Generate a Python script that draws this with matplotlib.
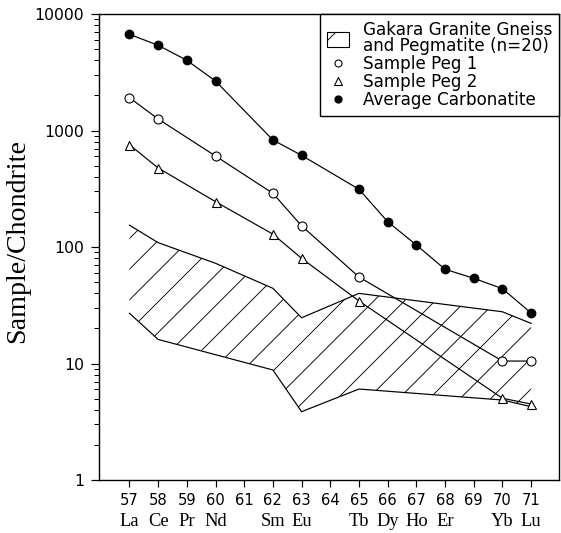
import numpy as np
import matplotlib
matplotlib.use("Agg")
import matplotlib.pyplot as plt
from matplotlib.lines import Line2D
from matplotlib.patches import Patch

# ---- data ----
atomic_numbers = [57, 58, 59, 60, 61, 62, 63, 64, 65, 66, 67, 68, 69, 70, 71]
element_x = [57, 58, 59, 60, 62, 63, 65, 66, 67, 68, 70, 71]
element_labels = ["La", "Ce", "Pr", "Nd", "Sm", "Eu", "Tb", "Dy", "Ho", "Er", "Yb", "Lu"]

carb_x = [57, 58, 59, 60, 62, 63, 65, 66, 67, 68, 69, 70, 71]
carb_y = [6700, 5390, 4005, 2660, 829, 612, 313, 165, 104, 64.4, 53.9, 43.9, 27.1]

peg1_x = [57, 58, 60, 62, 63, 65, 70, 71]
peg1_y = [1914, 1256, 604, 289, 152, 55.3, 10.5, 10.5]

peg2_x = [57, 58, 60, 62, 63, 65, 70, 71]
peg2_y = [755, 477, 245, 129, 80, 34.4, 5.03, 4.49]

field_up_x = [57, 58, 60, 62, 63, 65, 70, 71]
field_up_y = [154, 109, 72.5, 44.2, 24.7, 40, 27.8, 22.1]
field_lo_x = [57, 58, 62, 63, 65, 70, 71]
field_lo_y = [27, 16.1, 8.8, 3.86, 6.04, 4.86, 4.26]

y_ticks = [1, 10, 100, 1000, 10000]
y_tick_labels = ["1", "10", "100", "1000", "10000"]

DPI = 92


def P(px):
    return px * 72.0 / DPI


plt.rcParams["hatch.linewidth"] = P(0.9)
plt.rcParams["font.family"] = ["DejaVu Sans"]

fig = plt.figure(figsize=(561 / DPI, 533 / DPI), dpi=DPI)
ax = fig.add_axes([0.176, 0.0994, 0.9964 - 0.176, 0.9737 - 0.0994])
ax.set_yscale("log")
ax.set_xlim(55.93, 71.97)
ax.set_ylim(1, 10000)

LW = P(1.2)
# hatched field
poly_x = np.concatenate([field_up_x, field_lo_x[::-1]])
poly_y = np.concatenate([field_up_y, field_lo_y[::-1]])
ax.fill(poly_x, poly_y, facecolor="none", edgecolor="black", hatch="/", linewidth=0)
ax.plot(field_up_x, field_up_y, color="black", lw=LW)
ax.plot(field_lo_x, field_lo_y, color="black", lw=LW)

ax.plot(carb_x, carb_y, color="black", lw=LW, marker="o", ms=P(8.5),
        mfc="black", mec="black")
ax.plot(peg1_x, peg1_y, color="black", lw=LW, marker="o", ms=P(9),
        mfc="white", mec="black", mew=P(1.1))
ax.plot(peg2_x, peg2_y, color="black", lw=LW, marker="^", ms=P(9),
        mfc="white", mec="black", mew=P(1.1))

# axes styling
for s in ax.spines.values():
    s.set_linewidth(P(1.4))
ax.set_xticks(atomic_numbers)
ax.set_xticklabels([str(a) for a in atomic_numbers])
ax.tick_params(axis="x", which="major", direction="out", length=P(7), width=P(1.2),
               pad=P(6), labelsize=P(14.8))
ax.set_yticks(y_ticks)
ax.set_yticklabels(y_tick_labels)
ax.yaxis.set_minor_locator(matplotlib.ticker.LogLocator(base=10, subs=np.arange(2, 10)))
ax.yaxis.set_minor_formatter(matplotlib.ticker.NullFormatter())
ax.tick_params(axis="y", which="major", direction="out", length=P(8.5), width=P(1.2),
               pad=P(6), labelsize=P(15.6))
ax.tick_params(axis="y", which="minor", direction="out", length=P(5), width=P(1.0))

for xv, lab in zip(element_x, element_labels):
    ax.text(xv, -0.0895, lab, transform=ax.get_xaxis_transform(), ha="center",
            va="center", fontsize=P(18.5), family="Liberation Serif")

fig.text(18 / 561, 1 - 241 / 533, "Sample/Chondrite", rotation=90, ha="center",
         va="center", fontsize=P(28), family="Liberation Serif")

handles = [
    Patch(facecolor="white", edgecolor="black", hatch="/", linewidth=P(1.1)),
    Line2D([], [], ls="none", marker="o", ms=P(7), mfc="white", mec="black", mew=P(1.1)),
    Line2D([], [], ls="none", marker="^", ms=P(7), mfc="white", mec="black", mew=P(1.1)),
    Line2D([], [], ls="none", marker="o", ms=P(7), mfc="black", mec="black"),
]
labels = ["Gakara Granite Gneiss\nand Pegmatite (n=20)", "Sample Peg 1",
          "Sample Peg 2", "Average Carbonatite"]
leg = ax.legend(handles, labels, loc="upper right", borderaxespad=0,
                fancybox=False, edgecolor="black", framealpha=1, fontsize=P(16.8),
                handlelength=1.35, handleheight=1.0, handletextpad=0.8,
                borderpad=0.4, labelspacing=0.0)
leg.get_frame().set_linewidth(P(1.4))
leg.get_texts()[0].set_linespacing(0.9)

fig.savefig("out.png", dpi=DPI)
